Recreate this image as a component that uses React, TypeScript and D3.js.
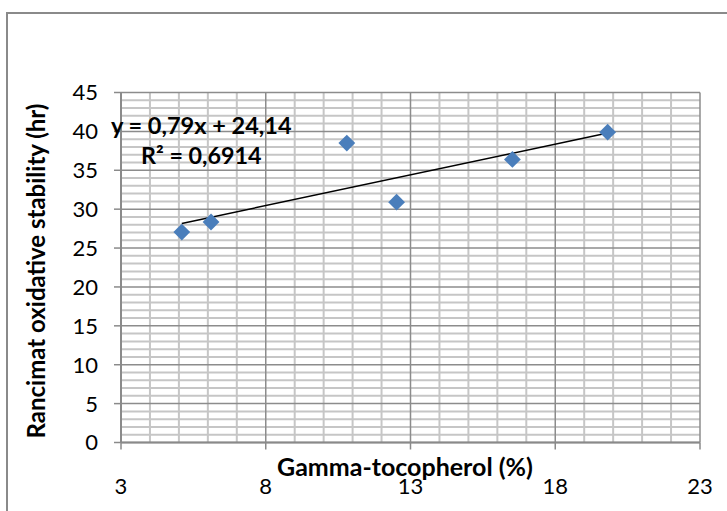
import React from "react";
import * as d3 from "d3";

const xValues = [5.1, 6.11, 10.8, 12.52, 16.52, 19.81];
const yValues = [27.05, 28.35, 38.5, 30.9, 36.4, 39.9];
const xTicks = [3, 8, 13, 18, 23];
const yTicks = [0, 5, 10, 15, 20, 25, 30, 35, 40, 45];
const trendSlope = 0.79;
const trendIntercept = 24.14;
const r2 = 0.6914;

const W = 727;
const H = 511;
const M = { left: 121, right: 700, top: 92.5, bottom: 442.5 };
const FONT = "Lato, 'Open Sans', sans-serif";

export default function App() {
  const x = d3.scaleLinear().domain([3, 23]).range([M.left, M.right]);
  const y = d3.scaleLinear().domain([0, 45]).range([M.bottom, M.top]);
  const minorX = d3.range(3, 23.001, 1).filter((v) => (v - 3) % 5 !== 0);
  const minorY = d3.range(0, 45.001, 1).filter((v) => v % 5 !== 0);
  const xMin = d3.min(xValues) as number;
  const xMax = d3.max(xValues) as number;
  const line = d3.line<number>()
    .x((d) => x(d))
    .y((d) => y(trendSlope * d + trendIntercept));
  const fmt = (v: number) => String(v).replace(".", ",");
  const diamond = d3.symbol().type(d3.symbolDiamond2).size(180)() as string;

  return (
    <svg width={W} height={H} style={{ display: "block", position: "absolute", left: 0, top: 0 }}>
      <rect x={0} y={0} width={W} height={H} fill="#fff" />
      <rect x={7} y={13} width={W + 20} height={H + 20} fill="none" stroke="#8a8a8a" strokeWidth={2} />
      {minorX.map((v) => (
        <line key={"mx" + v} x1={x(v)} x2={x(v)} y1={M.top} y2={M.bottom} stroke="#c6c6c6" strokeWidth={2} />
      ))}
      {minorY.map((v) => (
        <line key={"my" + v} x1={M.left} x2={M.right} y1={y(v)} y2={y(v)} stroke="#c6c6c6" strokeWidth={2} />
      ))}
      {xTicks.map((v) => (
        <line key={"Mx" + v} x1={x(v)} x2={x(v)} y1={M.top} y2={M.bottom} stroke="#8c8c8c" strokeWidth={1.5} />
      ))}
      {yTicks.map((v) => (
        <line key={"My" + v} x1={M.left} x2={M.right} y1={y(v)} y2={y(v)} stroke="#8c8c8c" strokeWidth={1.5} />
      ))}
      {/* axes */}
      <line x1={M.left} x2={M.left} y1={M.top} y2={M.bottom} stroke="#8a8a8a" strokeWidth={2} />
      <line x1={M.left} x2={M.right} y1={M.bottom} y2={M.bottom} stroke="#8a8a8a" strokeWidth={2} />
      {yTicks.map((v) => (
        <line key={"yt" + v} x1={M.left - 7} x2={M.left} y1={y(v)} y2={y(v)} stroke="#8a8a8a" strokeWidth={1.5} />
      ))}
      {xTicks.map((v) => (
        <line key={"xt" + v} x1={x(v)} x2={x(v)} y1={M.bottom} y2={M.bottom + 7} stroke="#8a8a8a" strokeWidth={1.5} />
      ))}
      {yTicks.map((v) => (
        <text key={"yl" + v} x={98} y={y(v)} dy="0.36em" textAnchor="end" fontFamily={FONT} fontSize={22} fill="#000">
          {v}
        </text>
      ))}
      {xTicks.map((v) => (
        <text key={"xl" + v} x={x(v)} y={493.5} textAnchor="middle" fontFamily={FONT} fontSize={22} fill="#000">
          {v}
        </text>
      ))}
      {/* trendline */}
      <path d={line([xMin, xMax]) || ""} fill="none" stroke="#000" strokeWidth={1.5} />
      {xValues.map((v, i) => (
        <path key={"pt" + i} d={diamond} transform={`translate(${x(v)},${y(yValues[i])})`} fill="#4a7ebb" />
      ))}
      {/* equation */}
      <text x={111} y={134} fontFamily={FONT} fontSize={23.5} fontWeight="bold" fill="#000">
        {`y = ${fmt(trendSlope)}x + ${fmt(trendIntercept)}`}
      </text>
      <text x={141} y={164} fontFamily={FONT} fontSize={23.3} fontWeight="bold" fill="#000">
        {`R² = ${fmt(r2)}`}
      </text>
      {/* axis titles */}
      <text x={405} y={476} textAnchor="middle" fontFamily={FONT} fontSize={25} fontWeight="bold" fill="#000">
        Gamma-tocopherol (%)
      </text>
      <text transform={`translate(45,271) rotate(-90)`} textAnchor="middle" fontFamily={FONT} fontSize={24} fontWeight="bold" fill="#000">
        Rancimat oxidative stability (hr)
      </text>
    </svg>
  );
}
